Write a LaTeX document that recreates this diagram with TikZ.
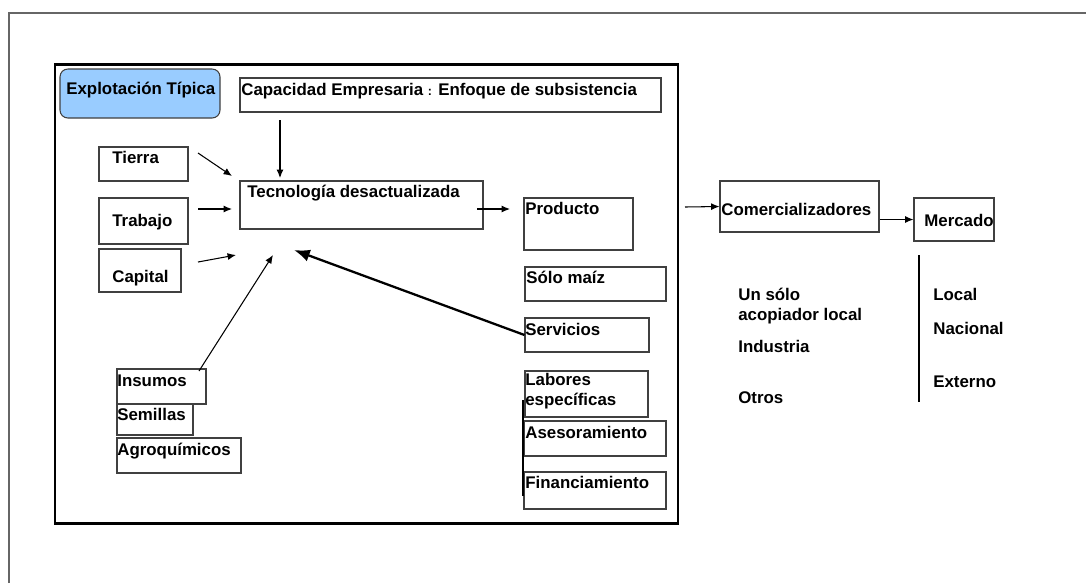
\documentclass[tikz,border=0pt]{standalone}
\usepackage{fontspec}
\setmainfont{Liberation Sans}
\usepackage{xcolor}
\usetikzlibrary{arrows,arrows.meta,positioning,fit}
\definecolor{azulclaro}{RGB}{153,204,255}

\begin{document}
\begin{tikzpicture}[x=0.02cm,y=-0.02cm,
  caja/.style={rectangle, draw=black!75, line width=0.6pt, inner sep=0pt},
  txt/.style={anchor=base west, inner sep=0pt, font=\fontsize{9.6}{11.5}\selectfont\bfseries},
  flecha/.style={-{Latex[length=4.8pt,width=4pt]}, line width=0.6pt}]
\useasboundingbox (0,0) rectangle (1086,583);
\draw [black!60, line width=0.6pt] (9,583) -- (9,13) -- (1086,13);
\draw [line width=1.7pt] (55,64) rectangle (678,523);

% cajas
\node (explot) [caja, fill=azulclaro, rounded corners=4.5pt, fit={(60,69) (220,118)}] {};
\node (capac) [caja, fit={(240,78) (661,112)}] {};
\node (tierra) [caja, fit={(99,147) (188,181)}] {};
\node (trabajo) [caja, fit={(99,198) (188,244)}] {};
\node (capital) [caja, fit={(99,249) (181,292)}] {};
\node (tecno) [caja, fit={(240,181) (483,229)}] {};
\node (producto) [caja, fit={(524,198) (633,250)}] {};
\node (maiz) [caja, fit={(525,267) (666,301)}] {};
\node (servicios) [caja, fit={(525,318) (649,352)}] {};
\node (labores) [caja, fit={(525,371) (648,417)}] {};
\node (asesor) [caja, fit={(524,421) (666,456)}] {};
\node (financ) [caja, fit={(524,472) (666,509)}] {};
\node (insumos) [caja, fit={(117,369) (206,404)}] {};
\node (semillas) [caja, fit={(117,404) (193,435)}] {};
\node (agroq) [caja, fit={(117,438) (241,473)}] {};
\node (comerc) [caja, fit={(720,181) (879,232)}] {};
\node (mercado) [caja, fit={(914,198) (994,241)}] {};

% textos
\node (tExplot) [txt] at (66,94) {Explotación Típica};
\node (tCapac) [txt] at (241,95) {Capacidad Empresaria {\fontsize{7}{8}\selectfont :} Enfoque de subsistencia};
\node (tTierra) [txt] at (112,163) {Tierra};
\node (tTrabajo) [txt] at (112,226) {Trabajo};
\node (tCapital) [txt] at (112,282) {Capital};
\node (tTecno) [txt] at (247,197) {Tecnología desactualizada};
\node (tProducto) [txt] at (525,214) {Producto};
\node (tMaiz) [txt] at (526,283) {Sólo maíz};
\node (tServicios) [txt] at (525,335) {Servicios};
\node (tLabores) [txt] at (525,385) {Labores};
\node (tEspecif) [txt] at (525,405) {específicas};
\node (tAsesor) [txt] at (525,438) {Asesoramiento};
\node (tFinanc) [txt] at (525,488) {Financiamiento};
\node (tInsumos) [txt] at (117,386) {Insumos};
\node (tSemillas) [txt] at (117,420) {Semillas};
\node (tAgroq) [txt] at (117,455) {Agroquímicos};
\node (tComerc) [txt] at (721,215) {Comercializadores};
\node (tMercado) [txt] at (924,226) {Mercado};
\node (tUnSolo) [txt] at (738,300) {Un sólo};
\node (tAcopiador) [txt] at (738,320) {acopiador local};
\node (tIndustria) [txt] at (738,352) {Industria};
\node (tOtros) [txt] at (738,403) {Otros};
\node (tLocal) [txt] at (933,300) {Local};
\node (tNacional) [txt] at (933,334) {Nacional};
\node (tExterno) [txt] at (933,387) {Externo};

% puntos libres
\coordinate (capIni) at (280,120);
\coordinate (capFin) at (280,178);
\coordinate (tieIni) at (198,153);
\coordinate (tieFin) at (232,176);
\coordinate (traIni) at (198,209);
\coordinate (traFin) at (232,209);
\coordinate (capiIni) at (198,262);
\coordinate (capiFin) at (236,255);
\coordinate (insIni) at (199,371);
\coordinate (insFin) at (273,255);
\coordinate (serFin) at (294,250);
\coordinate (tecIni) at (477,209);
\coordinate (tecFin) at (510,209);
\coordinate (comIni) at (685,207);

% flechas
\draw [flecha] (capIni) -- (capFin);
\draw [flecha] (tieIni) -- (tieFin);
\draw [flecha] (traIni) -- (traFin);
\draw [flecha] (capiIni) -- (capiFin);
\draw [flecha] (insIni) -- (insFin);
\draw [-{Latex[length=9pt,width=7pt]}, line width=1.3pt] (servicios.west) -- (serFin);
\draw [flecha] (tecIni) -- (tecFin);
\draw [flecha] (comIni) -- (comerc.west);
\draw [flecha] (comerc.east |- mercado.west) -- (mercado.west);

% lineas
\draw [line width=1.7pt] (523,400) -- (523,496);
\draw [line width=0.6pt] (919,255) -- (919,402);
\end{tikzpicture}
\end{document}
